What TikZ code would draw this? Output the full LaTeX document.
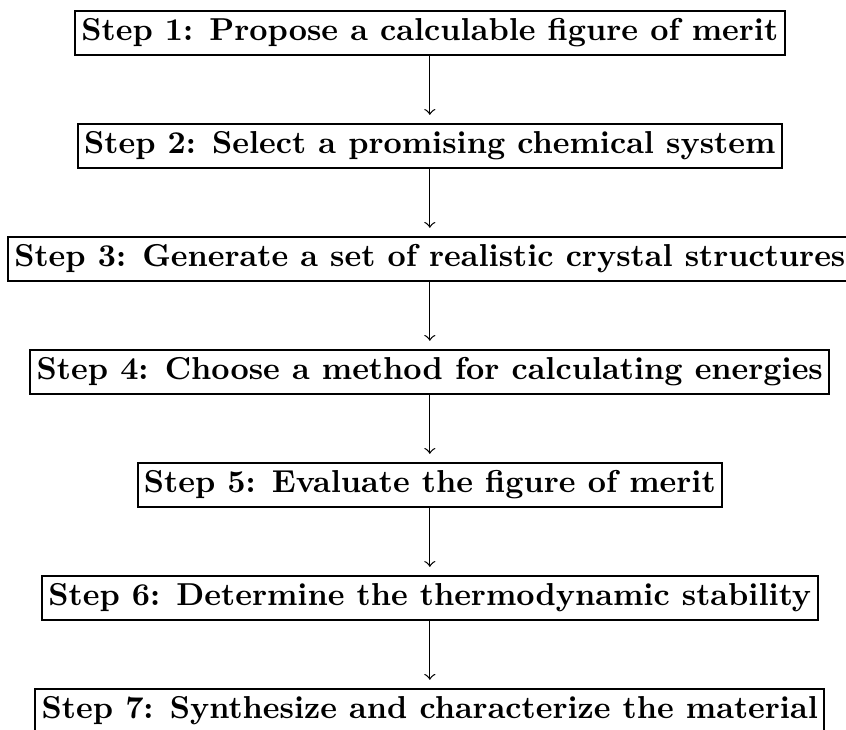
\documentclass[tikz,border=0pt]{standalone}
\usetikzlibrary{positioning}
\tikzset{
    stepbox/.style={draw,line width=0.65pt,inner xsep=2pt,inner ysep=2.5pt,font=\bfseries},
    freccia/.style={->,shorten >=2.5pt}
}
\begin{document}
\begin{tikzpicture}[node distance=21pt]

        % Cornice della figura
    \useasboundingbox (0,0) rectangle (266.9pt,-230pt);

        % Passi
    \node[stepbox] (step1) at (135.6pt,-10.4pt) {Step 1: Propose a calculable figure of merit};
    \node[stepbox,below=of step1] (step2) {Step 2: Select a promising chemical system};
    \node[stepbox,below=of step2] (step3) {Step 3: Generate a set of realistic crystal structures};
    \node[stepbox,below=of step3] (step4) {Step 4: Choose a method for calculating energies};
    \node[stepbox,below=of step4] (step5) {Step 5: Evaluate the figure of merit};
    \node[stepbox,below=of step5] (step6) {Step 6: Determine the thermodynamic stability};
    \node[stepbox,below=of step6] (step7) {Step 7: Synthesize and characterize the material};

        % Frecce
    \foreach \i/\j in {1/2,2/3,3/4,4/5,5/6,6/7}
        \draw[freccia] (step\i) -- (step\j);

\end{tikzpicture}
\end{document}
